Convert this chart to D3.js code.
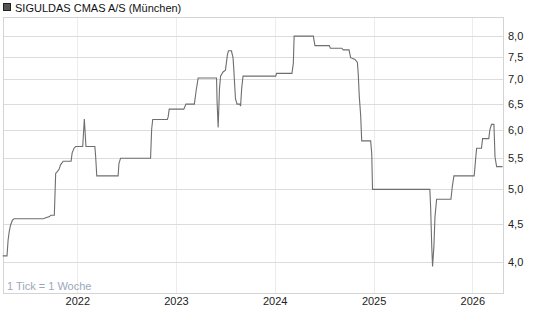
<!DOCTYPE html>
<html><head><meta charset="utf-8">
<script src="https://cdn.jsdelivr.net/npm/d3@7"></script>
<style>
body{margin:0;background:#fff;}
text{font-family:"Liberation Sans",Arial,sans-serif;}
</style></head>
<body><svg id="c" width="545" height="327"></svg>
<script>
const title = "SIGULDAS CMAS A/S (München)";
const note = "1 Tick = 1 Woche";
const yTicks = [4.0, 4.5, 5.0, 5.5, 6.0, 6.5, 7.0, 7.5, 8.0];
const xTicks = ["2022-01-01","2023-01-01","2024-01-01","2025-01-01","2026-01-01"];
const dates = [
"2021-03-31","2021-04-16","2021-04-20","2021-04-24","2021-04-29","2021-05-06","2021-05-12",
"2021-08-28","2021-09-04","2021-09-20","2021-09-25","2021-10-08","2021-10-13","2021-10-19",
"2021-10-26","2021-10-31","2021-11-10","2021-12-09","2021-12-13","2021-12-20","2021-12-26",
"2022-01-21","2022-01-27","2022-02-02","2022-03-07","2022-03-10","2022-03-14","2022-06-01",
"2022-06-04","2022-06-10","2022-09-29","2022-10-03","2022-10-07","2022-11-30","2022-12-03",
"2022-12-07","2023-01-30","2023-02-07","2023-03-10","2023-03-16","2023-03-24","2023-05-31",
"2023-06-02","2023-06-06","2023-06-11","2023-06-15","2023-06-24","2023-07-03","2023-07-10",
"2023-07-14","2023-07-25","2023-07-31","2023-08-03","2023-08-09","2023-08-15","2023-08-25",
"2023-08-28","2023-09-01","2023-09-06","2024-01-05","2024-01-08","2024-03-05","2024-03-10",
"2024-03-13","2024-05-23","2024-05-29","2024-07-21","2024-07-25","2024-09-05","2024-09-11",
"2024-10-02","2024-10-08","2024-10-24","2024-11-02","2024-11-05","2024-11-09","2024-11-14",
"2024-11-18","2024-12-21","2024-12-25","2024-12-28","2025-07-28","2025-07-31","2025-08-04",
"2025-08-07","2025-08-12","2025-08-16","2025-08-22","2025-10-14","2025-10-19","2025-10-25",
"2026-01-08","2026-01-13","2026-01-17","2026-02-04","2026-02-08","2026-03-03","2026-03-07",
"2026-03-13","2026-03-22","2026-03-26","2026-04-01","2026-04-23"];
const prices = [
4.08,4.08,4.28,4.39,4.48,4.55,4.57,
4.57,4.58,4.60,4.62,4.62,5.25,5.28,
5.32,5.39,5.45,5.45,5.59,5.67,5.70,
5.70,6.20,5.70,5.70,5.52,5.21,5.21,
5.41,5.50,5.50,6.01,6.19,6.19,6.24,
6.39,6.39,6.49,6.49,6.74,7.03,7.03,
6.54,6.04,6.82,7.07,7.16,7.20,7.54,
7.64,7.64,7.48,7.20,6.60,6.49,6.49,
6.45,6.81,7.07,7.07,7.13,7.13,7.35,
7.99,7.99,7.76,7.76,7.70,7.70,7.66,
7.66,7.48,7.44,7.37,7.13,6.64,6.28,
5.80,5.80,5.58,5.00,5.00,4.72,4.20,
3.95,4.20,4.60,4.85,4.85,5.04,5.21,
5.21,5.47,5.67,5.67,5.84,5.84,6.00,
6.10,6.10,5.52,5.36,5.36];

const parse = d3.timeParse("%Y-%m-%d");
const data = dates.map((d,i)=>({date:parse(d), v:prices[i]}));
const svg = d3.select("#c");
const L=3, R=503, T=17, B=293;

const x = d3.scaleTime().domain([parse(xTicks[0]), parse(xTicks[4])]).range([77.3, 472.3]);
const y = d3.scaleLog().domain([4, 8]).range([262.3, 35.7]);

// vertical grid
svg.append("g").selectAll("line").data(xTicks.map(parse)).join("line")
  .attr("x1",d=>Math.round(x(d))+0.5).attr("x2",d=>Math.round(x(d))+0.5)
  .attr("y1",T).attr("y2",B).attr("stroke","#ececec").attr("stroke-width",1);
// horizontal grid
svg.append("g").selectAll("line").data(yTicks).join("line")
  .attr("x1",L).attr("x2",R)
  .attr("y1",d=>Math.round(y(d))+0.5).attr("y2",d=>Math.round(y(d))+0.5)
  .attr("stroke","#dcdcdc").attr("stroke-width",1);
// frame
svg.append("rect").attr("x",L+0.5).attr("y",T+0.5).attr("width",R-L).attr("height",B-T)
  .attr("fill","none").attr("stroke","#d4d4d4");

// line
svg.append("path").datum(data)
  .attr("d", d3.line().x(d=>x(d.date)).y(d=>y(d.v)))
  .attr("fill","none").attr("stroke","#6e6e6e").attr("stroke-width",1.1);

// y axis
const yAxis = d3.axisRight(y).tickValues(yTicks).tickSize(0).tickPadding(0)
  .tickFormat(d=>d3.format(".1f")(d).replace(".",","));
const gy = svg.append("g").attr("transform",`translate(${R+5},0)`).call(yAxis);
gy.select(".domain").remove();
gy.selectAll("text").attr("font-size",11).attr("fill","#222").attr("font-family","Liberation Sans, Arial, sans-serif");

// x axis
const xAxis = d3.axisBottom(x).tickValues(xTicks.map(parse)).tickSize(0).tickPadding(0)
  .tickFormat(d3.timeFormat("%Y"));
const gx = svg.append("g").attr("transform",`translate(0,${B+2})`).call(xAxis);
gx.select(".domain").remove();
gx.selectAll("text").attr("font-size",11).attr("fill","#222").attr("dy","0.9em").attr("font-family","Liberation Sans, Arial, sans-serif");

// note
svg.append("text").attr("x",7).attr("y",290).attr("font-size",11).attr("fill","#9aa8bd").text(note);

// title
svg.append("rect").attr("x",3.5).attr("y",3.5).attr("width",7).attr("height",7)
  .attr("fill","#555").attr("stroke","#222");
svg.append("text").attr("x",15).attr("y",11.5).attr("font-size",11).attr("fill","#111").text(title);
</script></body></html>
